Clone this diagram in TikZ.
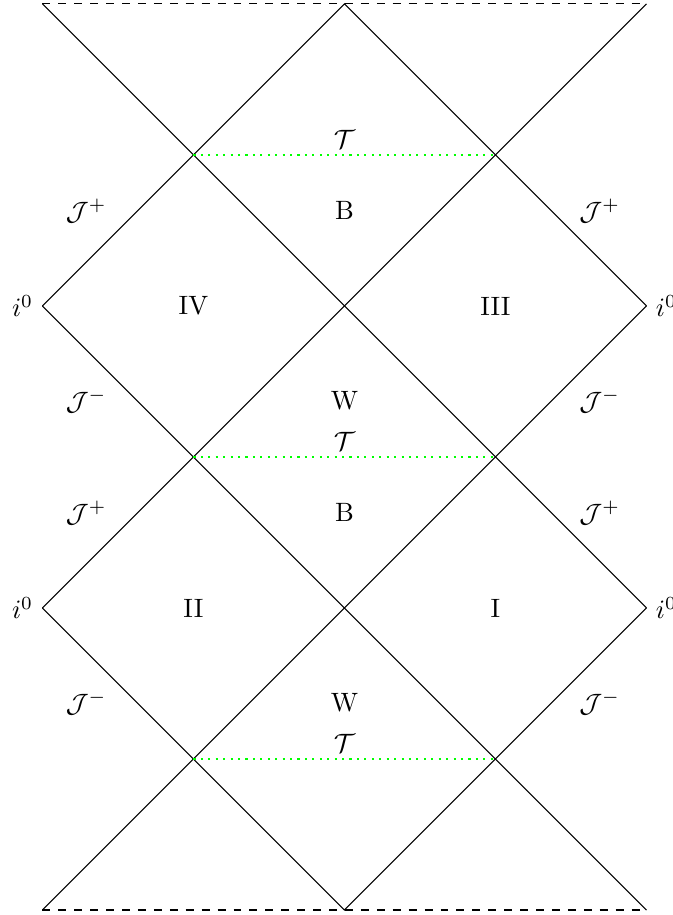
\documentclass[tikz,border=0pt]{standalone}
\usepackage{amsfonts}
\usepackage{amsmath}
\usepackage{xcolor}
\usepackage{tikz}
\usetikzlibrary{positioning}

\begin{document}
\begin{tikzpicture}[
    x=2cm, y=2cm,
    horizon/.style={black},
    infinity/.style={black, dashed},
    slice/.style={green, dotted, thick},
    region/.style={align=center, inner sep=1pt},
    scri/.style={inner sep=1pt}
  ]
    \useasboundingbox (-2.281,-3.033) rectangle (2.175,3.026);
    \coordinate (tl) at (-2,3);
    \coordinate (tc) at (0,3);
    \coordinate (tr) at (2,3);
    \coordinate (bl) at (-2,-3);
    \coordinate (bc) at (0,-3);
    \coordinate (br) at (2,-3);
    \coordinate (lu) at (-2,1);
    \coordinate (ld) at (-2,-1);
    \coordinate (ru) at (2,1);
    \coordinate (rd) at (2,-1);
    \coordinate (s1l) at (-1,2);
    \coordinate (s1r) at (1,2);
    \coordinate (s2l) at (-1,0);
    \coordinate (s2r) at (1,0);
    \coordinate (s3l) at (-1,-2);
    \coordinate (s3r) at (1,-2);
    \draw[infinity] (tl) -- (tr);
    \draw[infinity] (bl) -- (br);
    \draw[horizon] (tl) -- (rd);
    \draw[horizon] (tr) -- (ld);
    \draw[horizon] (lu) -- (br);
    \draw[horizon] (ru) -- (bl);
    \draw[horizon] (lu) -- (tc) -- (ru);
    \draw[horizon] (ld) -- (bc) -- (rd);
    \draw[slice] (s1l) -- (s1r);
    \draw[slice] (s2l) -- (s2r);
    \draw[slice] (s3l) -- (s3r);
    \node[region] (t1) at (0,2.1) {$\mathcal{T}$};
    \node[region] (t2) at (0,0.1) {$\mathcal{T}$};
    \node[region] (t3) at (0,-1.9) {$\mathcal{T}$};
    \node[region] (b1) at (0,1.63) {B};
    \node[region] (w1) at (0,0.37) {W};
    \node[region] (b2) at (0,-0.37) {B};
    \node[region] (w2) at (0,-1.63) {W};
    \node[region] (r4) at (-1,1) {IV};
    \node[region] (r3) at (1,1) {III};
    \node[region] (r2) at (-1,-1) {II};
    \node[region] (r1) at (1,-1) {I};
    \node[left] (i0lu) at (lu) {$i^0$};
    \node[left] (i0ld) at (ld) {$i^0$};
    \node[right] (i0ru) at (ru) {$i^0$};
    \node[right] (i0rd) at (rd) {$i^0$};
    \node[scri] (jplu) at (-1.71,1.63) {$\mathcal{J}^+$};
    \node[scri] (jmlu) at (-1.71,0.37) {$\mathcal{J}^-$};
    \node[scri] (jpld) at (-1.71,-0.37) {$\mathcal{J}^+$};
    \node[scri] (jmld) at (-1.71,-1.63) {$\mathcal{J}^-$};
    \node[scri] (jpru) at (1.69,1.63) {$\mathcal{J}^+$};
    \node[scri] (jmru) at (1.69,0.37) {$\mathcal{J}^-$};
    \node[scri] (jprd) at (1.69,-0.37) {$\mathcal{J}^+$};
    \node[scri] (jmrd) at (1.69,-1.63) {$\mathcal{J}^-$};
  \end{tikzpicture}
\end{document}
